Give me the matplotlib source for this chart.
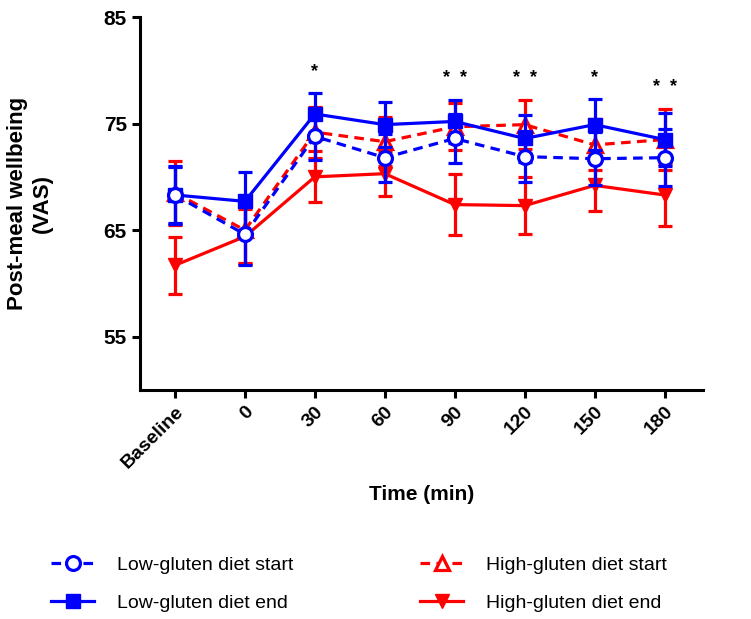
import matplotlib
matplotlib.use("Agg")
import matplotlib.pyplot as plt
from matplotlib.lines import Line2D
import numpy as np

plt.rcParams['font.family'] = ['Liberation Sans', 'DejaVu Sans']

# time points
time_labels = ["Baseline", "0", "30", "60", "90", "120", "150", "180"]

# means and SEM per group
low_start = [68.3, 64.6, 73.8, 71.8, 73.6, 71.9, 71.7, 71.8]
low_start_err = [2.7, 2.9, 2.2, 2.25, 2.3, 2.4, 2.5, 2.7]
low_end = [68.3, 67.7, 75.9, 74.9, 75.2, 73.6, 74.9, 73.5]
low_end_err = [2.6, 2.8, 2.0, 2.1, 2.0, 2.2, 2.4, 2.5]
high_start = [68.5, 65.0, 74.2, 73.3, 74.7, 74.9, 73.0, 73.5]
high_start_err = [3.0, 3.1, 2.4, 2.3, 2.2, 2.3, 2.4, 2.9]
high_end = [61.7, 64.4, 70.0, 70.3, 67.4, 67.3, 69.2, 68.3]
high_end_err = [2.7, 2.6, 2.4, 2.1, 2.9, 2.7, 2.4, 2.9]

# significance marks
sig_labels = ["", "", "*", "", "*  *", "*  *", "*", "*  *"]

BLUE = "#0000ff"
RED = "#ff0000"

fig = plt.figure(figsize=(7.51, 6.19), dpi=100)
ax = fig.add_axes([140 / 751, 1 - 390 / 619, 563 / 751, 373 / 619])
x = np.arange(len(time_labels))

common = dict(lw=2.3, capsize=5, capthick=2.3, elinewidth=2.3, ms=10)

ax.errorbar(x, high_end, yerr=high_end_err, color=RED, marker="v",
            mfc=RED, mec=RED, ls="-", zorder=2, **common)
ax.errorbar(x, high_start, yerr=high_start_err, color=RED, marker="^",
            mfc="white", mec=RED, mew=2.3, ls=(0, (3, 2)), zorder=3, **common)
ax.errorbar(x, low_end, yerr=low_end_err, color=BLUE, marker="s",
            mfc=BLUE, mec=BLUE, ls="-", zorder=4, **common)
ax.errorbar(x, low_start, yerr=low_start_err, color=BLUE, marker="o",
            mfc="white", mec=BLUE, mew=2.3, ls=(0, (3, 2)), zorder=5, **common)

# stars sit just above the highest error bar
tops = np.max([np.array(a) + np.array(e) for a, e in
               [(low_start, low_start_err), (low_end, low_end_err),
                (high_start, high_start_err), (high_end, high_end_err)]], axis=0)
for xi, lab, t in zip(x, sig_labels, tops):
    if lab:
        ax.text(xi, t + 1.2, lab, ha="center", va="bottom",
                fontsize=13, fontweight="bold")

ax.set_xlim(-0.5, 7.55)
ax.set_ylim(50, 85)
ax.set_yticks([55, 65, 75, 85])
ax.set_xticks(x)
ax.set_xticklabels(time_labels, rotation=45, ha="right",
                   rotation_mode="anchor", fontsize=14, fontweight="bold")
for lab in ax.get_yticklabels():
    lab.set_fontsize(15)
    lab.set_fontweight("bold")

for side in ["top", "right"]:
    ax.spines[side].set_visible(False)
for side in ["left", "bottom"]:
    ax.spines[side].set_linewidth(2.2)
ax.tick_params(width=2.2, length=6)

ax.set_ylabel("Post-meal wellbeing\n(VAS)", fontsize=16, fontweight="bold",
              linespacing=1.25)
ax.yaxis.set_label_coords(-0.155, 0.5)
ax.set_xlabel("Time (min)", fontsize=15, fontweight="bold")
ax.xaxis.set_label_coords(0.5, -0.255)

handles = [
    Line2D([], [], color=BLUE, ls=(0, (3, 2)), lw=2.3, marker="o",
           mfc="white", mec=BLUE, mew=2.3, ms=10),
    Line2D([], [], color=BLUE, ls="-", lw=2.3, marker="s", mfc=BLUE, ms=10),
    Line2D([], [], color=RED, ls=(0, (3, 2)), lw=2.3, marker="^",
           mfc="white", mec=RED, mew=2.3, ms=10),
    Line2D([], [], color=RED, ls="-", lw=2.3, marker="v", mfc=RED, ms=10),
]
labels = ["Low-gluten diet start", "Low-gluten diet end",
          "High-gluten diet start", "High-gluten diet end"]
fig.legend(handles, labels, loc="center left", bbox_to_anchor=(0.045, 0.057),
           ncol=2, frameon=False, fontsize=14, handlelength=2.2,
           columnspacing=6.5, labelspacing=1.05, handletextpad=1.2)

fig.savefig("out.png", dpi=100)
